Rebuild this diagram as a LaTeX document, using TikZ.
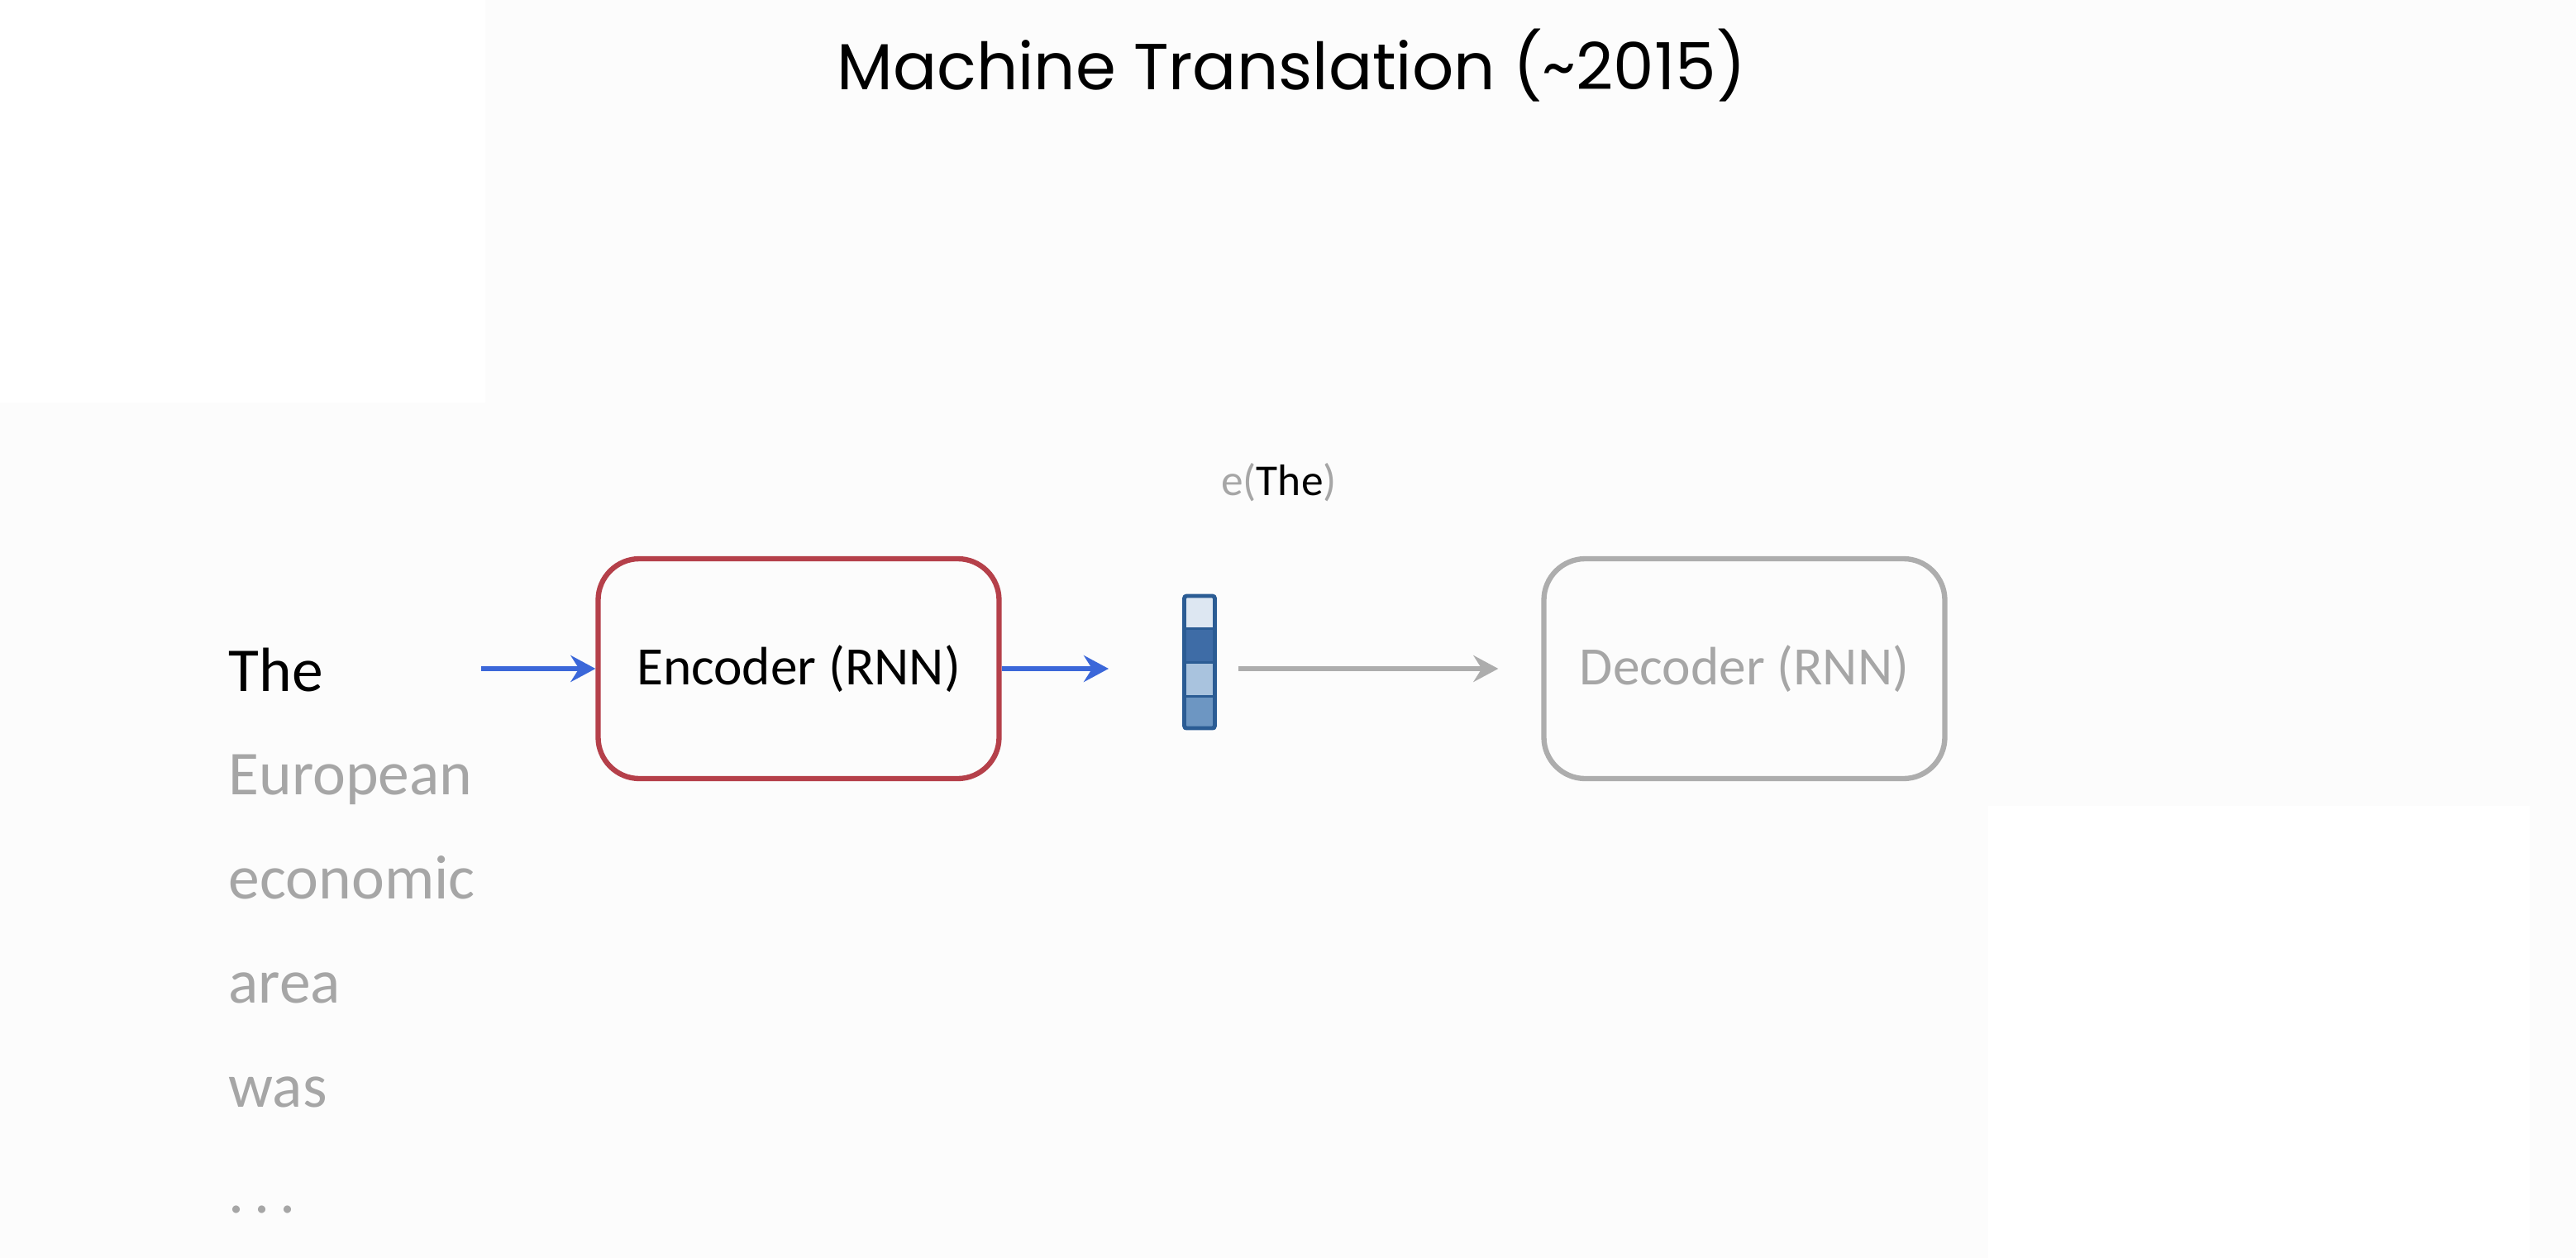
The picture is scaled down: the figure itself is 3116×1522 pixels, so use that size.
\documentclass[tikz,border=0pt]{standalone}
\usepackage{fontspec}
\setmainfont{Carlito}
\newfontfamily\titlefont{Poppins}
\usetikzlibrary{arrows.meta,positioning}

\definecolor{encred}{RGB}{181,64,74}
\definecolor{boxgray}{RGB}{173,173,173}
\definecolor{wordgray}{RGB}{166,166,166}
\definecolor{arrblue}{RGB}{59,103,217}
\definecolor{vecblue}{RGB}{43,92,148}
\definecolor{cellA}{RGB}{221,231,242}
\definecolor{cellB}{RGB}{62,108,166}
\definecolor{cellC}{RGB}{169,195,222}
\definecolor{cellD}{RGB}{109,150,194}
\definecolor{bggray}{RGB}{252,252,252}

\begin{document}
\begin{tikzpicture}[
    x=0.1mm, y=-0.1mm,
    every node/.style={inner sep=0pt},
    box/.style={draw, line width=1.8pt, rounded corners=5mm, minimum width=48.5mm, minimum height=26.6mm, font=\fontsize{18.6}{22}\selectfont},
    word/.style={anchor=base west, text=wordgray, font=\fontsize{21.5}{26}\selectfont},
    arr/.style={-{Stealth[length=3mm, width=3.2mm, inset=1mm]}, line width=1.5pt, draw=arrblue}
]
% Background
\useasboundingbox (0,0) rectangle (3116,1522);
\fill[bggray] (0,0) rectangle (3116,1522);
\fill[white] (0,0) rectangle (587,487);
\fill[white] (2405,975) rectangle (3060,1522);

% Title
\node[anchor=base, font=\titlefont\fontsize{22.4}{27}\selectfont] (title) at (1562,108) {Machine Translation (\textasciitilde 2015)};

% Source sentence
\node[word, text=black] (the) at (276,836) {The};
\node[word, below=12.5mm of the.base west, anchor=base west] (european) {European};
\node[word, below=12.6mm of european.base west, anchor=base west] (economic) {economic};
\node[word, below=12.6mm of economic.base west, anchor=base west] (area) {area};
\node[word, below=12.6mm of area.base west, anchor=base west] (was) {was};
\node[word, below=12.8mm of was.base west, anchor=base west] (dots) {.\hspace{0.16em}.\hspace{0.16em}.};

% Encoder, vector, decoder
\node[box, draw=encred] (enc) at (966,809) {Encoder (RNN)};
\node[box, draw=boxgray, text=wordgray] (dec) at (2110,809) {Decoder (RNN)};

\foreach \col [count=\i] in {cellA,cellB,cellC,cellD}
    \fill[\col] (1432,{720+(\i-1)*40.75}) rectangle +(38,40.75);
\foreach \i in {1,2,3}
    \draw[vecblue, line width=0.9pt] (1432,{720+\i*40.75}) -- +(38,0);
\node[draw=vecblue, line width=1.4pt, rounded corners=0.3mm, minimum width=3.7mm, minimum height=16.0mm] (vec) at (1451,801) {};
\node[anchor=base, font=\fontsize{15.2}{18}\selectfont] (label) at (1547,599) {\textcolor{wordgray}{e(}The\textcolor{wordgray}{)}};

% Arrows
\coordinate (in) at (582,809);
\coordinate (vin) at (1341,809);
\draw[arr] (in) -- (enc.west);
\draw[arr] (enc.east) -- (vin);
\draw[arr, draw=boxgray, shorten <=2.6mm, shorten >=5.2mm] (vec.east |- dec.west) -- (dec.west);
\end{tikzpicture}
\end{document}
